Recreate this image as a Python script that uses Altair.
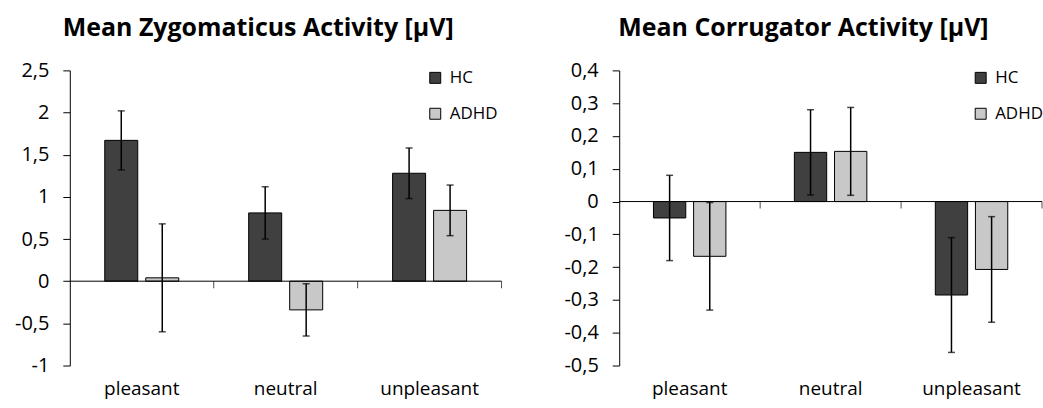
import altair as alt
import pandas as pd

categories = ["pleasant", "neutral", "unpleasant"]
groups = ["HC", "ADHD"]
colors = ["#404040", "#c8c8c8"]

zyg_title = "Mean Zygomaticus Activity [µV]"
zyg_hc = [1.67, 0.81, 1.28]
zyg_hc_err = [0.35, 0.31, 0.30]
zyg_adhd = [0.04, -0.34, 0.84]
zyg_adhd_err = [0.64, 0.31, 0.30]
zyg_ticks = [-1, -0.5, 0, 0.5, 1, 1.5, 2, 2.5]

cor_title = "Mean Corrugator Activity [µV]"
cor_hc = [-0.05, 0.15, -0.285]
cor_hc_err = [0.13, 0.13, 0.175]
cor_adhd = [-0.167, 0.153, -0.207]
cor_adhd_err = [0.164, 0.134, 0.161]
cor_ticks = [-0.5, -0.4, -0.3, -0.2, -0.1, 0, 0.1, 0.2, 0.3, 0.4]

LABEL_EXPR = "replace(replace(format(datum.value, '.1~f'), '.', ','), '\u2212', '-')"


def panel(title, hc, hc_err, adhd, adhd_err, ticks, width, legend_x):
    rows = []
    for i, c in enumerate(categories):
        for g, v, e in (("HC", hc[i], hc_err[i]), ("ADHD", adhd[i], adhd_err[i])):
            rows.append({"cat": c, "group": g, "value": v, "lo": v - e, "hi": v + e})
    df = pd.DataFrame(rows)

    xscale = alt.Scale(domain=categories, paddingInner=0, paddingOuter=0)
    xaxis = alt.Axis(title=None, domain=False, ticks=False, labelAngle=0,
                     labelFontSize=19, labelPadding=14, labelColor="black")
    yscale = alt.Scale(domain=[ticks[0], ticks[-1]], nice=False, zero=False)
    yaxis = alt.Axis(title=None, values=ticks, labelExpr=LABEL_EXPR, grid=False,
                     domainColor="black", tickColor="black", tickSize=7,
                     labelFontSize=20, labelPadding=14, labelColor="black")
    offscale = alt.Scale(domain=groups, paddingInner=0.195, paddingOuter=0.853)

    X = alt.X("cat:N", scale=xscale, axis=xaxis)
    XO = alt.XOffset("group:N", scale=offscale)

    base = alt.Chart(df)
    bars = base.mark_bar(stroke="black", strokeWidth=1).encode(
        x=X, xOffset=XO,
        y=alt.Y("value:Q", scale=yscale, axis=yaxis),
        color=alt.Color("group:N", scale=alt.Scale(domain=groups, range=colors),
                        legend=alt.Legend(title=None, orient="none", legendX=legend_x,
                                          legendY=-1, symbolType="square",
                                          symbolSize=121, symbolStrokeColor="black",
                                          symbolStrokeWidth=1, labelFontSize=17,
                                          labelColor="black", rowPadding=18,
                                          labelOffset=6)),
    )
    err = base.mark_rule(color="black", strokeWidth=1.5).encode(
        x=X, xOffset=XO,
        y=alt.Y("lo:Q", scale=yscale, axis=yaxis), y2="hi:Q",
    )
    cap_lo = base.mark_tick(color="black", thickness=1.5, size=7, orient="horizontal").encode(
        x=X, xOffset=XO, y=alt.Y("lo:Q", scale=yscale, axis=yaxis))
    cap_hi = base.mark_tick(color="black", thickness=1.5, size=7, orient="horizontal").encode(
        x=X, xOffset=XO, y=alt.Y("hi:Q", scale=yscale, axis=yaxis))

    zero = alt.Chart(pd.DataFrame({"z": [0]})).mark_rule(color="black", strokeWidth=1).encode(
        y=alt.Y("z:Q", scale=yscale, axis=yaxis))

    tk1 = alt.Chart(pd.DataFrame({"cat": categories[1:], "z": [0] * (len(categories) - 1)})).mark_tick(
        orient="vertical", size=7, thickness=1, color="black", yOffset=3.5).encode(
        x=alt.X("cat:N", scale=xscale, axis=xaxis, bandPosition=0),
        y=alt.Y("z:Q", scale=yscale, axis=yaxis))
    tk2 = alt.Chart(pd.DataFrame({"cat": categories[-1:], "z": [0]})).mark_tick(
        orient="vertical", size=7, thickness=1, color="black", yOffset=3.5).encode(
        x=alt.X("cat:N", scale=xscale, axis=xaxis, bandPosition=1),
        y=alt.Y("z:Q", scale=yscale, axis=yaxis))

    return alt.layer(bars, zero, tk1, tk2, err, cap_lo, cap_hi).properties(
        width=width, height=296,
        title=alt.TitleParams(title, fontSize=25, fontWeight="bold", anchor="middle",
                              frame="bounds", color="black", offset=19),
    )


left = panel(zyg_title, zyg_hc, zyg_hc_err, zyg_adhd, zyg_adhd_err, zyg_ticks, 433, 358)
right = panel(cor_title, cor_hc, cor_hc_err, cor_adhd, cor_adhd_err, cor_ticks, 424, 354)

chart = alt.hconcat(left, right, spacing=61).resolve_scale(
    color="independent", y="independent", x="independent", xOffset="independent"
).resolve_legend(color="independent").configure(
    font="Open Sans",
    padding={"left": 14, "top": 16, "right": 0, "bottom": 6},
).configure_view(stroke=None)

chart.save("out.html", embed_options={"renderer": "svg", "actions": False})
